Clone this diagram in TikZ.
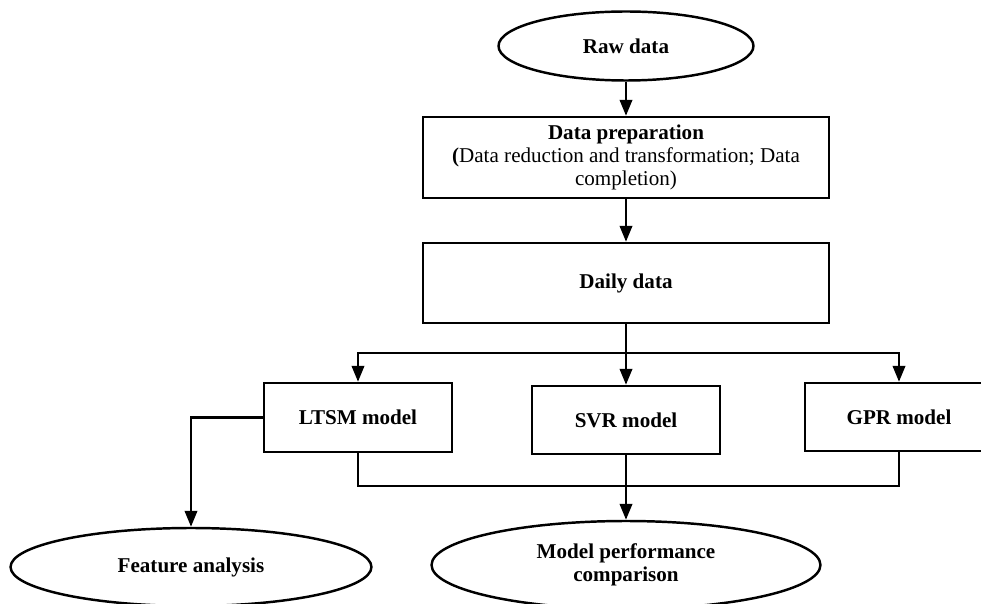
\documentclass[tikz,border=0pt]{standalone}
\usepackage{fontspec}
\setmainfont{Liberation Serif}
\usetikzlibrary{arrows.meta, shapes.geometric}

\begin{document}
\begin{tikzpicture}[x=0.02cm, y=-0.02cm,
    box/.style={draw, line width=1.4pt, font=\fontsize{12}{13}\selectfont\bfseries, align=center, inner sep=0pt},
    oval/.style={draw, ellipse, line width=1.4pt, font=\fontsize{12}{13}\selectfont\bfseries, align=center, inner sep=0pt},
    arrow/.style={-{Triangle[length=9pt, width=7pt]}, line width=1.4pt},
    link/.style={line width=1.4pt}]
    \useasboundingbox (0,0) rectangle (981,604);

    % top of the chain
    \node[oval, minimum width=5.1cm, minimum height=1.38cm] (raw) at (626,46) {Raw data};
    \node[box, minimum width=8.12cm, minimum height=1.62cm] (prep) at (626,157.5)
        {Data preparation\\\mdseries\textbf{(}Data reduction and transformation; Data\\\mdseries completion)};
    \node[box, minimum width=8.12cm, minimum height=1.6cm] (daily) at (626,283) {Daily data};

    % models
    \node[box, minimum width=3.76cm, minimum height=1.38cm] (ltsm) at (358,417.5) {LTSM model};
    \node[box, minimum width=3.76cm, minimum height=1.36cm] (svr) at (626,420) {SVR model};
    \node[box, minimum width=3.76cm, minimum height=1.36cm] (gpr) at (899,417) {GPR model};

    % results
    \node[oval, minimum width=7.22cm, minimum height=1.56cm] (feature) at (191,567) {Feature analysis};
    \node[oval, minimum width=7.78cm, minimum height=1.76cm] (perf) at (626,565) {Model performance\\comparison};

    \coordinate (split) at (626,353);
    \coordinate (merge) at (626,486);

    % Arrows
    \draw[arrow] (raw) -- (prep);
    \draw[arrow] (prep) -- (daily);
    \draw[link] (daily.south) -- (split);
    \draw[arrow] (split) -| (ltsm.north);
    \draw[arrow] (split) -- (svr.north);
    \draw[arrow] (split) -| (gpr.north);
    \draw[link] (ltsm.south) |- (merge);
    \draw[link] (gpr.south) |- (merge);
    \draw[link] (svr.south) -- (merge);
    \draw[arrow] (merge) -- (perf.north);
    \draw[arrow] (ltsm.west) -| (feature.north);
\end{tikzpicture}
\end{document}
